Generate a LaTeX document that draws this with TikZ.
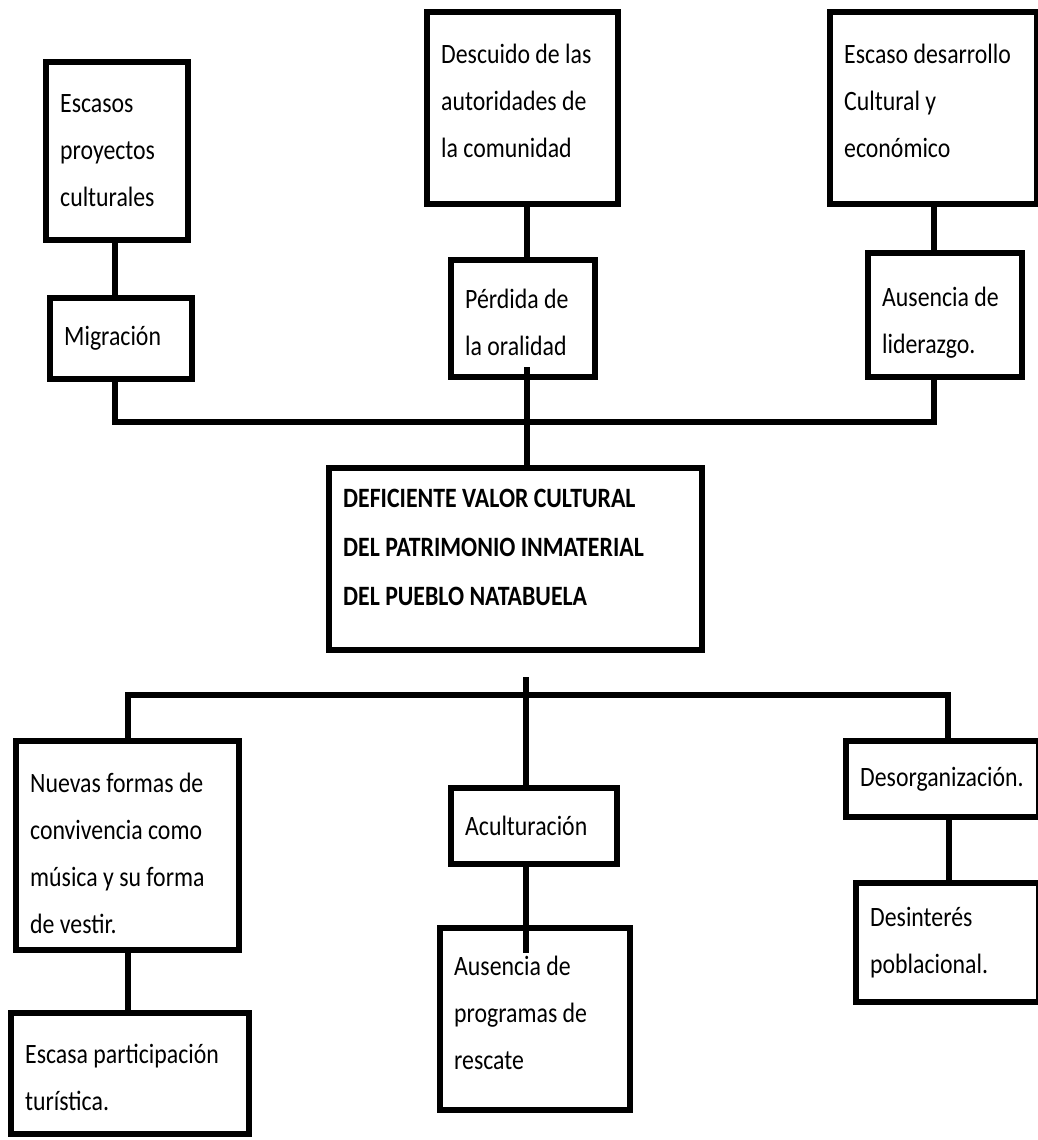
\documentclass[tikz,border=0pt]{standalone}
\usepackage{fontspec}
\setmainfont{Carlito}[FakeStretch=0.85]
\begin{document}
\begin{tikzpicture}[x=1pt,y=-1pt,
  box/.style={draw=black, line width=6pt, rectangle, inner sep=0pt},
  txt/.style={align=left, inner sep=0pt, anchor=west, font=\fontsize{28}{47}\selectfont, text=black},
  link/.style={draw=black, line width=6pt}]
\useasboundingbox (0,0) rectangle (1038,1140);
\fill[white] (0,0) rectangle (1038,1140);
% boxes
\node[box, minimum width=142pt, minimum height=178pt] (esc) at (117,151) {};
\node[box, minimum width=191pt, minimum height=192pt] (desc) at (522.5,108) {};
\node[box, minimum width=207pt, minimum height=192pt] (desa) at (933.5,108) {};
\node[box, minimum width=142pt, minimum height=81pt] (mig) at (121,338.5) {};
\node[box, minimum width=144pt, minimum height=117pt] (perd) at (523,318.5) {};
\node[box, minimum width=154pt, minimum height=124pt] (lid) at (945,315) {};
\node[box, minimum width=373pt, minimum height=182pt] (central) at (515.5,559) {};
\node[box, minimum width=223pt, minimum height=209pt] (nuev) at (127.5,845.5) {};
\node[box, minimum width=238pt, minimum height=121pt] (escpart) at (130,1073.5) {};
\node[box, minimum width=166pt, minimum height=76pt] (acul) at (534,826) {};
\node[box, minimum width=190pt, minimum height=182pt] (ausprog) at (535,1019) {};
\node[box, minimum width=193pt, minimum height=76pt] (desorg) at (942.5,779) {};
\node[box, minimum width=183pt, minimum height=119pt] (desint) at (947.5,942.5) {};
% texts
\node[txt] (escT) at ([xshift=17pt]esc.west) {Escasos\\proyectos\\culturales};
\node[txt] (descT) at ([xshift=17pt,yshift=7pt]desc.west) {Descuido de las\\autoridades de\\la comunidad};
\node[txt] (desaT) at ([xshift=17pt,yshift=7pt]desa.west) {Escaso desarrollo\\Cultural y\\económico};
\node[txt] (migT) at ([xshift=17pt]mig.west) {Migración};
\node[txt] (perdT) at ([xshift=17pt,yshift=-4pt]perd.west) {Pérdida de\\la oralidad};
\node[txt] (lidT) at ([xshift=17pt,yshift=-8pt]lid.west) {Ausencia de\\liderazgo.};
\node[txt, font=\bfseries\fontsize{28}{49}\selectfont] (cenT) at ([xshift=17pt,yshift=12pt]central.west) {DEFICIENTE VALOR CULTURAL\\DEL PATRIMONIO INMATERIAL\\DEL PUEBLO NATABUELA};
\node[txt] (nuevT) at ([xshift=17pt,yshift=-8pt]nuev.west) {Nuevas formas de\\convivencia como\\música y su forma\\de vestir.};
\node[txt] (escpT) at ([xshift=17pt,yshift=-4pt]escpart.west) {Escasa participación\\turística.};
\node[txt] (aculT) at ([xshift=17pt]acul.west) {Aculturación};
\node[txt] (ausT) at ([xshift=17pt,yshift=6pt]ausprog.west) {Ausencia de\\programas de\\rescate};
\node[txt] (desoT) at ([xshift=17pt]desorg.west) {Desorganización.};
\node[txt] (desiT) at ([xshift=17pt]desint.west) {Desinterés\\poblacional.};
% helper coordinates
\coordinate (tb) at (0,422);
\coordinate (bb) at (0,695);
\coordinate (cdrop) at (526,677);
% connectors top
\draw[link] ([xshift=-2pt]esc.south) -- ([xshift=-2pt]esc.south |- mig.north);
\draw[link] ([xshift=-2pt]esc.south |- mig.south) |- (tb -| desa.south) -- (lid.south -| desa.south);
\draw[link] ([xshift=4pt]desc.south) -- ([xshift=4pt]desc.south |- perd.north);
\draw[link] ([xshift=4pt,yshift=13pt]perd.south) -- ([xshift=4pt]perd.south |- central.north);
\draw[link] (desa.south) -- (desa.south |- lid.north);
% connectors bottom
\draw[link] (cdrop) -- (cdrop |- acul.north);
\draw[link] (nuev.north) |- ([xshift=5pt]bb -| desorg.north) -- ([xshift=5pt]desorg.north);
\draw[link] (nuev.south) -- (nuev.south |- escpart.north);
\draw[link] (cdrop |- acul.south) -- ([yshift=-28pt]cdrop |- ausprog.north);
\draw[link] ([xshift=6pt]desorg.south) -- ([xshift=6pt]desorg.south |- desint.north);
\end{tikzpicture}
\end{document}
